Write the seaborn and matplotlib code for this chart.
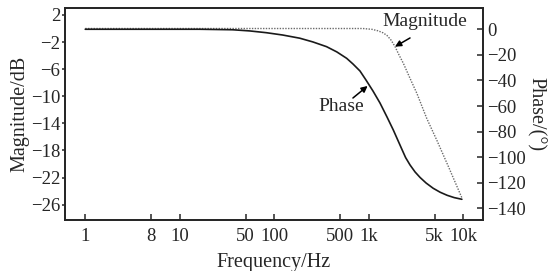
import matplotlib
matplotlib.use('Agg')
import matplotlib.pyplot as plt
import matplotlib.ticker as mticker
import seaborn as sns
import pandas as pd

# valores
mag_freq = [1, 10, 100, 500, 873, 1087, 1259, 1422, 1568, 1728, 1905, 2102, 2336, 2748,
            3241, 4138, 5283, 7015, 9727]
mag_db = [0, 0, 0, 0, 0, -0.12, -0.34, -0.63, -1.03, -1.7, -2.66, -3.91, -5.14, -7.36,
          -9.55, -13.3, -16.5, -20.4, -25.0]

phase_freq = [1, 10, 16.2, 36.4, 55, 82.8, 123, 187, 257, 359, 461, 586, 683, 811, 938,
              1113, 1321, 1567, 1828, 2245, 2466, 2748, 3110, 3514, 4066, 4831, 5728,
              6797, 8073, 9727]
phase_deg = [0, 0, 0, -0.4, -1.3, -2.7, -4.5, -7.0, -9.9, -13.6, -17.7, -22.7, -27.1,
             -32.6, -39.6, -48.2, -57.6, -68.5, -78.7, -93.5, -100.2, -106.0, -111.5,
             -115.8, -120.1, -124.2, -127.3, -129.7, -131.5, -132.8]

xticks = [1, 5, 10, 50, 100, 500, 1000, 5000, 10000]
xtick_labels = ['1', '8', '10', '50', '100', '500', '1k', '5k', '10k']
left_ticks = [2, -2, -6, -10, -14, -18, -22, -26]
right_ticks = [0, -20, -40, -60, -80, -100, -120, -140]

sns.set_style('ticks')
plt.rcParams['font.family'] = ['Liberation Serif', 'DejaVu Serif']
plt.rcParams['font.size'] = 13.5

fig = plt.figure(figsize=(5.53, 2.71), dpi=100)
ax = fig.add_axes([0.1175, 0.19, 0.756, 0.7805])
ax2 = ax.twinx()

df_mag = pd.DataFrame({'freq': mag_freq, 'val': mag_db})
df_ph = pd.DataFrame({'freq': phase_freq, 'val': phase_deg})

sns.lineplot(data=df_mag, x='freq', y='val', ax=ax, color='#6a6a6a', lw=1.0,
             linestyle=(0, (1, 1)))
sns.lineplot(data=df_ph, x='freq', y='val', ax=ax2, color='#1a1a1a', lw=1.2)

ax.set_xscale('log')
ax.set_xlim(0.61, 16300)
ax.set_ylim(-28.2, 3.03)
ax2.set_ylim(-148.6, 16.6)

ax.set_xticks(xticks)
ax.set_xticklabels(xtick_labels)
ax.xaxis.set_minor_locator(mticker.NullLocator())
ax.set_yticks(left_ticks)
ax2.set_yticks(right_ticks)

ax.tick_params(axis='x', direction='in', length=4, width=1.1, pad=6, labelsize=13.5)
ax.tick_params(axis='y', direction='out', length=2.5, width=1.1, pad=1, labelsize=13.5)
ax2.tick_params(axis='y', direction='in', length=4, width=1.1, pad=3, labelsize=13.5)

for a in (ax, ax2):
    for s in a.spines.values():
        s.set_linewidth(1.3)
        s.set_visible(True)

ax.set_xlabel('Frequency/Hz', fontsize=14.5, labelpad=6)
ax.set_ylabel('Magnitude/dB', fontsize=14.5, labelpad=1)
ax2.set_ylabel('Phase/(°)', fontsize=14.5, rotation=-90, labelpad=14)

# etiquetas con flecha
ax2.text(3972, 5.7, 'Magnitude', ha='center', va='center', fontsize=14)
ax2.annotate('', xy=(1905, -13.6), xytext=(2748, -6.8),
             arrowprops=dict(arrowstyle='-|>', color='black', lw=1.1,
                             shrinkA=0, shrinkB=0, mutation_scale=9))
ax2.text(509, -60.5, 'Phase', ha='center', va='center', fontsize=14)
ax2.annotate('', xy=(977, -44.3), xytext=(683, -53.7),
             arrowprops=dict(arrowstyle='-|>', color='black', lw=1.1,
                             shrinkA=0, shrinkB=0, mutation_scale=9))

fig.savefig('out.png', dpi=100)
